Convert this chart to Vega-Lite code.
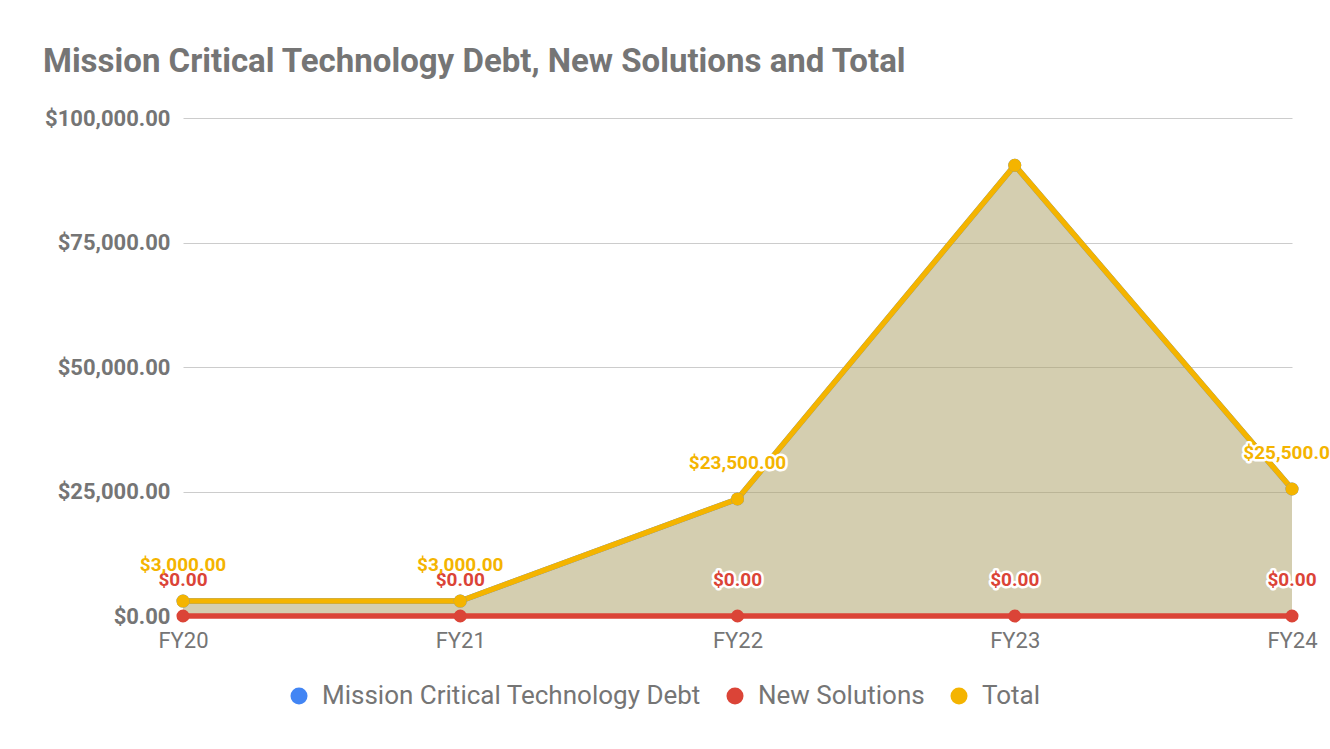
{
  "$schema": "https://vega.github.io/schema/vega-lite/v6.json",
  "autosize": "none",
  "width": 1109,
  "height": 498,
  "padding": {"left": 183, "top": 118, "right": 38, "bottom": 133},
  "background": "white",
  "config": {"view": {"stroke": null}},
  "title": {
    "text": "Mission Critical Technology Debt, New Solutions and Total",
    "anchor": "start",
    "frame": "group",
    "dx": -140,
    "offset": 28,
    "font": "Roboto",
    "fontSize": 33,
    "fontWeight": "bold",
    "color": "#757575"
  },
  "data": {
    "values": [
      {"year": "FY20", "series": "Mission Critical Technology Debt", "value": 3000},
      {"year": "FY21", "series": "Mission Critical Technology Debt", "value": 3000},
      {"year": "FY22", "series": "Mission Critical Technology Debt", "value": 23500},
      {"year": "FY23", "series": "Mission Critical Technology Debt", "value": 90500},
      {"year": "FY24", "series": "Mission Critical Technology Debt", "value": 25500},
      {"year": "FY20", "series": "New Solutions", "value": 0},
      {"year": "FY21", "series": "New Solutions", "value": 0},
      {"year": "FY22", "series": "New Solutions", "value": 0},
      {"year": "FY23", "series": "New Solutions", "value": 0},
      {"year": "FY24", "series": "New Solutions", "value": 0},
      {"year": "FY20", "series": "Total", "value": 3000},
      {"year": "FY21", "series": "Total", "value": 3000},
      {"year": "FY22", "series": "Total", "value": 23500},
      {"year": "FY23", "series": "Total", "value": 90500},
      {"year": "FY24", "series": "Total", "value": 25500}
    ]
  },
  "encoding": {
    "x": {
      "field": "year",
      "type": "ordinal",
      "scale": {"type": "point", "padding": 0},
      "axis": {
        "title": null,
        "labelAngle": 0,
        "labelFont": "Roboto",
        "labelFontSize": 22,
        "labelColor": "#757575",
        "labelPadding": 14,
        "domain": false,
        "ticks": false,
        "grid": false
      }
    },
    "y": {
      "field": "value",
      "type": "quantitative",
      "stack": null,
      "scale": {"domain": [0, 100000], "nice": false},
      "axis": {
        "title": null,
        "values": [0, 25000, 50000, 75000, 100000],
        "format": "$,.2f",
        "labelFont": "Roboto",
        "labelFontSize": 22,
        "labelFontWeight": "bold",
        "labelColor": "#757575",
        "labelPadding": 13,
        "domain": false,
        "ticks": false,
        "gridColor": "#cccccc",
        "gridWidth": 1
      }
    },
    "color": {
      "field": "series",
      "type": "nominal",
      "scale": {
        "domain": ["Mission Critical Technology Debt", "New Solutions", "Total"],
        "range": ["#4285F4", "#DB4437", "#F4B400"]
      },
      "legend": {
        "title": null,
        "orient": "none",
        "direction": "horizontal",
        "legendX": 103,
        "legendY": 565,
        "symbolType": "circle",
        "symbolSize": 290,
        "symbolOpacity": 1,
        "symbolStrokeWidth": 0,
        "labelFont": "Roboto",
        "labelFontSize": 26,
        "labelColor": "#757575",
        "labelOffset": 10,
        "columnPadding": 21,
        "labelLimit": 600
      }
    }
  },
  "layer": [
    {"mark": {"type": "area", "opacity": 0.3}},
    {"mark": {"type": "line", "strokeWidth": 5.5}},
    {"mark": {"type": "point", "filled": true, "size": 170, "opacity": 1}},
    {
      "transform": [{"filter": "datum.series != 'Mission Critical Technology Debt' && !(datum.series == 'Total' && datum.year == 'FY23')"}],
      "mark": {"type": "text", "font": "Roboto", "fontSize": 19, "fontWeight": "bold", "dy": -36, "baseline": "middle", "stroke": "white", "strokeWidth": 5, "strokeJoin": "round", "fill": "white"},
      "encoding": {
        "text": {"field": "value", "type": "quantitative", "format": "$,.2f"},
        "color": {"value": "white"}
      }
    },
    {
      "transform": [{"filter": "datum.series != 'Mission Critical Technology Debt' && !(datum.series == 'Total' && datum.year == 'FY23')"}],
      "mark": {"type": "text", "font": "Roboto", "fontSize": 19, "fontWeight": "bold", "dy": -36, "baseline": "middle"},
      "encoding": {
        "text": {"field": "value", "type": "quantitative", "format": "$,.2f"}
      }
    }
  ]
}
